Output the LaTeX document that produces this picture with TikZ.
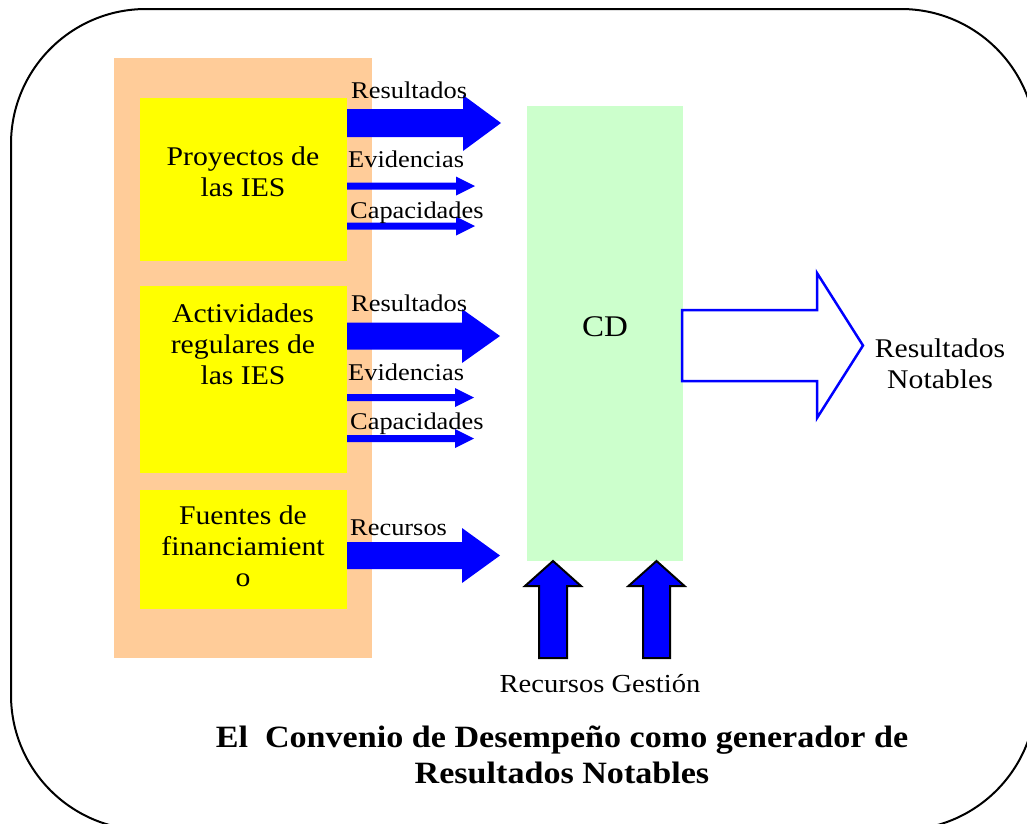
\documentclass[tikz,border=0pt]{standalone}
\usepackage{fontspec}
\setmainfont{Liberation Serif}[FakeStretch=1.1]
\definecolor{peach}{HTML}{FFCC99}
\definecolor{ylw}{HTML}{FFFF00}
\definecolor{mint}{HTML}{CCFFCC}
\definecolor{arrblue}{HTML}{0000FF}
\newcommand\rblk[7]{\path[#1] (#2,{#5-#6}) -- (#3,{#5-#6}) -- (#3,{#5-#7}) -- (#4,#5) -- (#3,{#5+#7}) -- (#3,{#5+#6}) -- (#2,{#5+#6}) -- cycle;}
\newcommand\ublk[7]{\path[#1] ({#2-#6},#3) -- ({#2-#6},#4) -- ({#2-#7},#4) -- (#2,#5) -- ({#2+#7},#4) -- ({#2+#6},#4) -- ({#2+#6},#3) -- cycle;}
\tikzset{
  box/.style={inner sep=0pt, outer sep=0pt},
  bodytxt/.style={font=\fontsize{27}{31}\selectfont, align=center, inner sep=0pt},
  lbl/.style={font=\fontsize{24}{27}\selectfont, inner sep=0pt, anchor=west},
  solidarrow/.style={fill=arrblue},
  uparrow/.style={fill=arrblue, draw=black, line width=2pt},
  hollowarrow/.style={fill=white, draw=arrblue, line width=2.5pt}
}
\begin{document}
\begin{tikzpicture}[x=1pt,y=-1pt]
\useasboundingbox (0,0) rectangle (1027,823);
\clip (0,0) rectangle (1027,823);
\draw[line width=2pt, rounded corners=135pt] (11,9) rectangle (1036,830);
% peach background
\fill[peach] (114,58) rectangle (372,658);
% yellow boxes
\fill[ylw] (140,98) rectangle (347,261);
\fill[ylw] (140,286) rectangle (347,473);
\fill[ylw] (140,490) rectangle (347,609);
\node[bodytxt] (p1) at (243,172) {Proyectos de\\las IES};
\node[bodytxt, anchor=north] (p2) at (243,304) {Actividades\\regulares de\\las IES};
\node[bodytxt, anchor=north] (p3) at (243,506) {Fuentes de\\financiamient\\o};
% green box
\fill[mint] (527,106) rectangle (683,561);
\node[font=\fontsize{30}{32}\selectfont, inner sep=0pt] (cd) at (605,327) {CD};
% arrows from boxes
\rblk{solidarrow}{347}{463}{501}{123}{14}{28}
\rblk{solidarrow}{347}{456}{475}{186}{3.5}{9.5}
\rblk{solidarrow}{347}{456}{475}{226}{3.5}{9.5}
\rblk{solidarrow}{347}{462}{500}{336}{13.5}{27}
\rblk{solidarrow}{347}{455}{474}{397.5}{3.5}{9.5}
\rblk{solidarrow}{347}{455}{474}{438.5}{3.5}{9.5}
\rblk{solidarrow}{347}{462}{500}{555.5}{13.5}{27.5}
% labels
\node[lbl] (l1) at (351,90) {Resultados};
\node[lbl] (l2) at (348,159) {Evidencias};
\node[lbl] (l3) at (350,213) {Capacidades};
\node[lbl] (l4) at (351,303) {Resultados};
\node[lbl] (l5) at (348,372) {Evidencias};
\node[lbl] (l6) at (350,424) {Capacidades};
\node[lbl] (l7) at (350,528) {Recursos};
% up arrows
\ublk{uparrow}{553}{658}{586}{561}{14}{28}
\ublk{uparrow}{656.5}{658}{586}{561}{13.5}{28}
\node[font=\fontsize{26}{30}\selectfont, inner sep=0pt] (rec) at (552,684) {Recursos};
\node[font=\fontsize{26}{30}\selectfont, inner sep=0pt] (ges) at (656,684) {Gestión};
% hollow arrow
\rblk{hollowarrow}{682}{817}{863}{345.5}{35.5}{72.5}
\node[bodytxt] (rn) at (940,364) {Resultados\\Notables};
% title
\node[font=\bfseries\fontsize{31}{36}\selectfont, align=center, inner sep=0pt] (title) at (562,755) {El\ \ Convenio de Desempeño como generador de\\Resultados Notables};
\end{tikzpicture}
\end{document}
